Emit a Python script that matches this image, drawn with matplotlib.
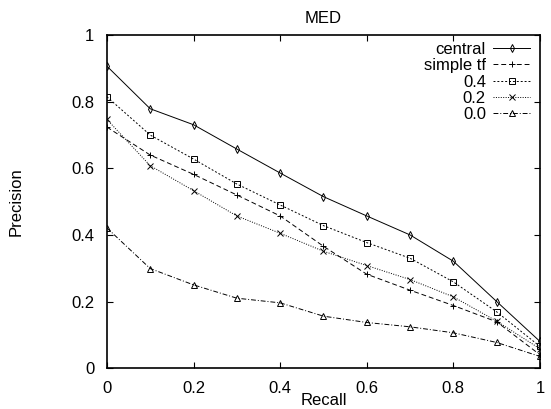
import numpy as np
import matplotlib
matplotlib.use('Agg')
import matplotlib.pyplot as plt

plt.rcParams['font.family'] = ['Liberation Sans', 'DejaVu Sans']

recall = [0.0, 0.1, 0.2, 0.3, 0.4, 0.5, 0.6, 0.7, 0.8, 0.9, 1.0]
central = [0.907, 0.779, 0.731, 0.658, 0.586, 0.515, 0.457, 0.400, 0.321, 0.200, 0.080]
simple_tf = [0.724, 0.640, 0.582, 0.520, 0.457, 0.366, 0.282, 0.234, 0.188, 0.139, 0.040]
w04 = [0.815, 0.700, 0.628, 0.553, 0.490, 0.428, 0.377, 0.330, 0.259, 0.169, 0.065]
w02 = [0.747, 0.608, 0.533, 0.457, 0.405, 0.351, 0.308, 0.266, 0.214, 0.141, 0.058]
w00 = [0.421, 0.299, 0.250, 0.210, 0.196, 0.156, 0.137, 0.124, 0.106, 0.077, 0.035]

labels = ['central', 'simple tf', '0.4', '0.2', '0.0']
series = [central, simple_tf, w04, w02, w00]
markers = ['d', '+', 's', 'x', '^']
styles = ['-', (0, (5, 3)), (0, (2, 2)), (0, (1, 1.5)), (0, (5, 2, 1, 2))]


def main():
    fig = plt.figure(figsize=(5.51, 4.09), dpi=100)
    ax = fig.add_axes([0.194, 0.100, 0.786, 0.814])

    for vals, lab, mk, ls in zip(series, labels, markers, styles):
        ax.plot(recall, vals, color='black', linewidth=0.7, linestyle=ls,
                marker=mk, markersize=4, markerfacecolor='none',
                markeredgewidth=0.7, label=lab)

    ax.set_xlim(0, 1)
    ax.set_ylim(0, 1)
    ax.set_xticks([0, 0.2, 0.4, 0.6, 0.8, 1])
    ax.set_xticklabels(['0', '0.2', '0.4', '0.6', '0.8', '1'])
    ax.set_yticks([0, 0.2, 0.4, 0.6, 0.8, 1])
    ax.set_yticklabels(['0', '0.2', '0.4', '0.6', '0.8', '1'])
    ax.tick_params(direction='in', top=True, right=True, labelsize=12, length=4, pad=9)
    for sp in ax.spines.values():
        sp.set_linewidth(1.2)

    ax.set_title('MED', fontsize=12, pad=9)
    ax.set_xlabel('Recall', fontsize=12, labelpad=-2)
    ax.set_ylabel('Precision', fontsize=12, labelpad=34)

    ax.legend(loc='upper right', bbox_to_anchor=(0.985, 0.99), frameon=False,
              markerfirst=False, fontsize=12, handlelength=2.2,
              labelspacing=0.08, handletextpad=0.45, borderaxespad=0.0,
              borderpad=0.2)

    fig.savefig('out.png', dpi=100)


if __name__ == "__main__":
    main()
